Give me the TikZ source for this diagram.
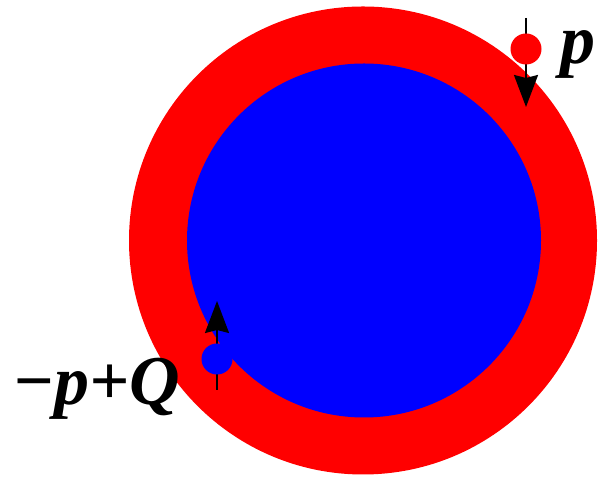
\documentclass[tikz,border=0pt]{standalone}
\usepackage{fontspec}
\setmainfont{Liberation Serif}
\usetikzlibrary{arrows.meta, positioning}

\begin{document}
\begin{tikzpicture}[
    x=1pt, y=1pt,
    dot/.style={circle, inner sep=0pt, minimum size=31pt},
    lbl/.style={inner sep=0pt, anchor=base west, font=\fontsize{70}{84}\selectfont\bfseries\itshape},
    >={Stealth[length=32pt, width=24pt, inset=3pt]}
]
\useasboundingbox (0,0) rectangle (602,478);

% shells
\fill[red] (363,237.5) circle (234);
\fill[blue] (364,237.5) circle (177);

% arrows first, dots sit on top
\coordinate (ptop) at (526,460);
\coordinate (pbot) at (526,371);
\coordinate (qbot) at (217,88);
\coordinate (qtop) at (217,177);

\draw[->, line width=2pt] (ptop) -- (pbot);
\draw[->, line width=2pt] (qbot) -- (qtop);

% particle and hole
\node[dot, fill=red] (pdot) at (526,429) {};
\node[dot, fill=blue] (qdot) at (217,119) {};

\node[lbl] (plbl) at (560,414) {p};
\node[lbl] (qlbl) at (12,73) {−p+Q};
\end{tikzpicture}
\end{document}
